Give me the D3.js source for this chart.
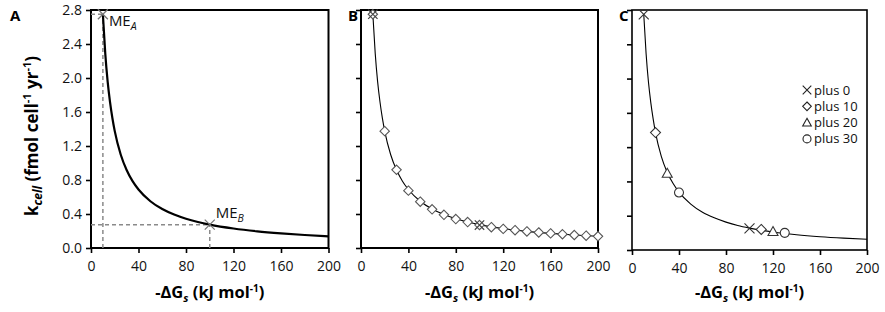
<!DOCTYPE html>
<html>
<head>
<meta charset="utf-8">
<script src="https://cdn.jsdelivr.net/npm/d3@7"></script>
<style>
  body { margin: 0; background: #fff; }
  text { font-family: "Open Sans", "Liberation Sans", sans-serif; }
</style>
</head>
<body>
<svg id="chart" width="885" height="312"></svg>
<script>
// Fitted curve
const curveX = [10, 12, 14, 16, 18, 20, 25, 30, 35, 40, 50, 60, 70, 80, 90, 100, 120, 140, 160, 180, 200];
const curveY = [2.75, 2.29, 1.96, 1.72, 1.53, 1.375, 1.10, 0.917, 0.786, 0.688, 0.55, 0.458, 0.393, 0.344, 0.306, 0.275, 0.229, 0.196, 0.172, 0.153, 0.1375];
// Panel C curve flattens a little lower at the right end
const cCurveY = [2.75, 2.29, 1.96, 1.72, 1.53, 1.37, 1.09, 0.905, 0.775, 0.675, 0.535, 0.44, 0.375, 0.325, 0.285, 0.255, 0.21, 0.178, 0.155, 0.138, 0.125];

// Panel A: the two marked end members
const meX = [10, 100];
const meY = [2.75, 0.275];
const meNames = ["A", "B"];

// Panel B: diamonds every 10 kJ, X at the end members
const bX = [10, 20, 30, 40, 50, 60, 70, 80, 90, 100, 110, 120, 130, 140, 150, 160, 170, 180, 190, 200];
const bY = [2.75, 1.375, 0.92, 0.675, 0.545, 0.455, 0.39, 0.34, 0.305, 0.27, 0.245, 0.225, 0.21, 0.195, 0.183, 0.172, 0.162, 0.153, 0.145, 0.138];
const bCrossX = [10, 100];
const bCrossY = [2.75, 0.27];

// Panel C: four offsets
const cX = [10, 20, 30, 40, 100, 110, 120, 130];
const cY = [2.75, 1.37, 0.895, 0.67, 0.253, 0.24, 0.215, 0.2];
const cType = ["x", "d", "t", "o", "x", "d", "t", "o"];
const legendLabels = ["plus 0", "plus 10", "plus 20", "plus 30"];
const legendTypes = ["x", "d", "t", "o"];

const xTicks = [0, 40, 80, 120, 160, 200];
const yTicks = [0, 0.4, 0.8, 1.2, 1.6, 2.0, 2.4, 2.8];

const svg = d3.select("#chart");

const panels = [
  { id: "A", left: 91, right: 328.5, top: 10, bottom: 248, lw: 2, curveW: 2.2, yLabels: true },
  { id: "B", left: 361, right: 598, top: 10, bottom: 248, lw: 2, curveW: 1.1, yLabels: false },
  { id: "C", left: 632, right: 867, top: 10, bottom: 250, lw: 1.6, curveW: 1.1, yLabels: false }
];

function markerPath(type, r) {
  if (type === "x") return `M${-r},${-r}L${r},${r}M${-r},${r}L${r},${-r}`;
  if (type === "d") return `M0,${-r}L${r},0L0,${r}L${-r},0Z`;
  if (type === "t") return `M0,${-r}L${r},${r * 0.8}L${-r},${r * 0.8}Z`;
  return d3.symbol().type(d3.symbolCircle).size(Math.PI * r * r)();
}

panels.forEach(p => {
  const x = d3.scaleLinear().domain([0, 200]).range([p.left, p.right]);
  const y = d3.scaleLinear().domain([0, 2.8]).range([p.bottom, p.top]);
  p.x = x; p.y = y;
  const g = svg.append("g");

  // box
  g.append("rect")
    .attr("x", p.left).attr("y", p.top)
    .attr("width", p.right - p.left).attr("height", p.bottom - p.top)
    .attr("fill", "none").attr("stroke", "#000").attr("stroke-width", p.lw);

  // x axis
  const xa = g.append("g")
    .attr("transform", `translate(0,${p.bottom})`)
    .call(d3.axisBottom(x).tickValues(xTicks).tickSize(5).tickPadding(8).tickFormat(d3.format("d")));
  xa.select(".domain").remove();
  xa.selectAll("line").attr("stroke-width", 1.6);
  xa.selectAll("text").attr("font-size", 14).attr("fill", "#111");

  // y axis
  const ya = g.append("g")
    .attr("transform", `translate(${p.left},0)`)
    .call(d3.axisLeft(y).tickValues(yTicks).tickSize(5).tickPadding(4)
      .tickFormat(p.yLabels ? d3.format(".1f") : ""));
  ya.select(".domain").remove();
  ya.selectAll("line").attr("stroke-width", 1.6);
  ya.selectAll("text").attr("font-size", 14).attr("fill", "#111");

  // panel letter
  svg.append("text")
    .attr("x", p.left - (p.id === "A" ? 81 : 13)).attr("y", 21)
    .attr("font-size", 15).attr("font-weight", "bold")
    .attr("font-family", "Liberation Sans, Arial, sans-serif")
    .text(p.id);

  // x label
  const xl = svg.append("text")
    .attr("x", (p.left + p.right) / 2).attr("y", 298)
    .attr("text-anchor", "middle")
    .attr("font-size", 16.5).attr("font-weight", "bold");
  xl.append("tspan").text("-ΔG");
  xl.append("tspan").attr("font-size", 11).attr("font-style", "italic").attr("dy", 4).text("s");
  xl.append("tspan").attr("dy", -4).text(" (kJ mol");
  xl.append("tspan").attr("font-size", 10).attr("dy", -6).text("-1");
  xl.append("tspan").attr("dy", 6).text(")");
});

// y label (panel A only)
const yl = svg.append("text")
  .attr("transform", "translate(38,136) rotate(-90)")
  .attr("text-anchor", "middle")
  .attr("font-size", 17).attr("font-weight", "bold");
yl.append("tspan").text("k");
yl.append("tspan").attr("font-size", 12).attr("font-style", "italic").attr("dy", 4).text("cell");
yl.append("tspan").attr("dy", -4).text(" (fmol cell");
yl.append("tspan").attr("font-size", 11).attr("dy", -7).text("-1");
yl.append("tspan").attr("dy", 7).text(" yr");
yl.append("tspan").attr("font-size", 11).attr("dy", -7).text("-1");
yl.append("tspan").attr("dy", 7).text(")");

const curvePts = curveX.map((v, i) => [v, curveY[i]]);
const cCurvePts = curveX.map((v, i) => [v, cCurveY[i]]);

// ---- Panel A ----
const pA = panels[0];
const dash = "4,3";
meX.forEach((v, i) => {
  svg.append("line")
    .attr("x1", pA.x(v)).attr("x2", pA.x(v))
    .attr("y1", pA.y(0)).attr("y2", pA.y(meY[i]))
    .attr("stroke", "#8a8a8a").attr("stroke-width", 1.5).attr("stroke-dasharray", dash);
  svg.append("line")
    .attr("x1", pA.x(0)).attr("x2", pA.x(v))
    .attr("y1", pA.y(meY[i])).attr("y2", pA.y(meY[i]))
    .attr("stroke", "#8a8a8a").attr("stroke-width", 1.5).attr("stroke-dasharray", dash);
});
svg.append("path")
  .datum(curvePts)
  .attr("fill", "none").attr("stroke", "#000").attr("stroke-width", pA.curveW)
  .attr("d", d3.line().x(d => pA.x(d[0])).y(d => pA.y(d[1])).curve(d3.curveMonotoneX));
meX.forEach((v, i) => {
  svg.append("path")
    .attr("transform", `translate(${pA.x(v)},${pA.y(meY[i])})`)
    .attr("d", markerPath("x", 5))
    .attr("fill", "none").attr("stroke", "#777").attr("stroke-width", 1.3);
  const t = svg.append("text")
    .attr("x", pA.x(v) + 6).attr("y", pA.y(meY[i]) + (i === 0 ? 12 : -7))
    .attr("font-size", 15).attr("fill", "#111");
  t.append("tspan").text("ME");
  t.append("tspan").attr("font-size", 10.5).attr("font-style", "italic").attr("dy", 4).text(meNames[i]);
});

// ---- Panel B ----
const pB = panels[1];
svg.append("path")
  .datum(curvePts)
  .attr("fill", "none").attr("stroke", "#000").attr("stroke-width", pB.curveW)
  .attr("d", d3.line().x(d => pB.x(d[0])).y(d => pB.y(d[1])).curve(d3.curveMonotoneX));
svg.append("g").selectAll("path")
  .data(bX.map((v, i) => [v, bY[i]]))
  .join("path")
  .attr("transform", d => `translate(${pB.x(d[0])},${pB.y(d[1])})`)
  .attr("d", markerPath("d", 4.7))
  .attr("fill", "#fff").attr("stroke", "#555").attr("stroke-width", 1.1);
svg.append("g").selectAll("path")
  .data(bCrossX.map((v, i) => [v, bCrossY[i]]))
  .join("path")
  .attr("transform", d => `translate(${pB.x(d[0])},${pB.y(d[1])})`)
  .attr("d", markerPath("x", 4.7))
  .attr("fill", "none").attr("stroke", "#444").attr("stroke-width", 1.2);

// ---- Panel C ----
const pC = panels[2];
svg.append("path")
  .datum(cCurvePts)
  .attr("fill", "none").attr("stroke", "#000").attr("stroke-width", pC.curveW)
  .attr("d", d3.line().x(d => pC.x(d[0])).y(d => pC.y(d[1])).curve(d3.curveMonotoneX));
svg.append("g").selectAll("path")
  .data(cX.map((v, i) => [v, cY[i], cType[i]]))
  .join("path")
  .attr("transform", d => `translate(${pC.x(d[0])},${pC.y(d[1])})`)
  .attr("d", d => markerPath(d[2], d[2] === "o" ? 4.5 : 5))
  .attr("fill", d => d[2] === "x" ? "none" : "#fff")
  .attr("stroke", "#333").attr("stroke-width", 1.1);

// legend
const lg = svg.append("g").attr("transform", "translate(807,90)");
legendLabels.forEach((lab, i) => {
  lg.append("path")
    .attr("transform", `translate(0,${i * 16.3})`)
    .attr("d", markerPath(legendTypes[i], legendTypes[i] === "o" ? 4 : 4.3))
    .attr("fill", "none").attr("stroke", "#222").attr("stroke-width", 1.1);
  lg.append("text")
    .attr("x", 7).attr("y", i * 16.3 + 4.5)
    .attr("font-size", 13).attr("fill", "#111")
    .text(lab);
});
</script>
</body>
</html>
